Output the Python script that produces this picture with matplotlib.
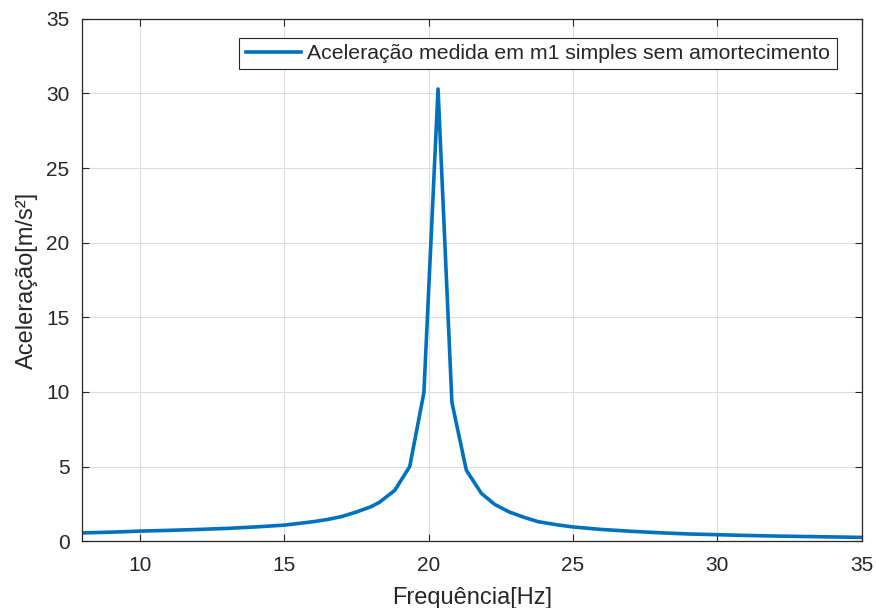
import numpy as np
import matplotlib.pyplot as plt

freq = [8, 9, 10, 11, 12, 13, 14, 15, 16, 16.5, 17, 17.5, 18, 18.3, 18.83,
        19.35, 19.84, 20.33, 20.81, 21.31, 21.83, 22.3, 22.8, 23.3, 23.8,
        24.5, 25, 26, 27, 28, 29, 30, 31, 32, 33, 34, 35]
accel = [0.55, 0.60, 0.67, 0.72, 0.78, 0.85, 0.95, 1.07, 1.30, 1.45, 1.65,
         1.95, 2.30, 2.60, 3.40, 5.00, 9.95, 30.3, 9.30, 4.75, 3.20, 2.45,
         1.95, 1.60, 1.30, 1.08, 0.95, 0.78, 0.66, 0.56, 0.48, 0.43, 0.38,
         0.34, 0.31, 0.28, 0.25]
xticks = [10, 15, 20, 25, 30, 35]
yticks = [0, 5, 10, 15, 20, 25, 30, 35]

plt.rcParams['font.family'] = ['Liberation Sans', 'DejaVu Sans']
txt = "#262626"

fig = plt.figure(figsize=(8.77, 6.08), dpi=100)
ax = fig.add_axes([0.0935, 0.110, 0.889, 0.859])

ax.plot(freq, accel, color="#0072BD", linewidth=2.6,
        label="Aceleração medida em m1 simples sem amortecimento")

ax.set_xlim(8, 35)
ax.set_ylim(0, 35)
ax.set_xticks(xticks)
ax.set_yticks(yticks)
ax.grid(color="#dcdcdc", linewidth=0.8)
ax.set_axisbelow(True)
ax.tick_params(direction="in", top=True, right=True, length=5, width=0.8,
               colors=txt, labelsize=15)
ax.tick_params(axis="x", pad=11)
ax.tick_params(axis="y", pad=9)
for s in ax.spines.values():
    s.set_color(txt)
    s.set_linewidth(0.9)

ax.set_xlabel("Frequência[Hz]", fontsize=17, color=txt, labelpad=8)
ax.set_ylabel("Aceleração[m/s²]", fontsize=17, color=txt, labelpad=6)

leg = ax.legend(loc="upper right", bbox_to_anchor=(0.968, 0.964),
                borderaxespad=0, fontsize=15.3, fancybox=False,
                framealpha=1, edgecolor=txt, handlelength=2.6,
                handletextpad=0.3, borderpad=0.3)
leg.get_frame().set_linewidth(0.8)
for t in leg.get_texts():
    t.set_color(txt)

fig.savefig("out.png", dpi=100)
